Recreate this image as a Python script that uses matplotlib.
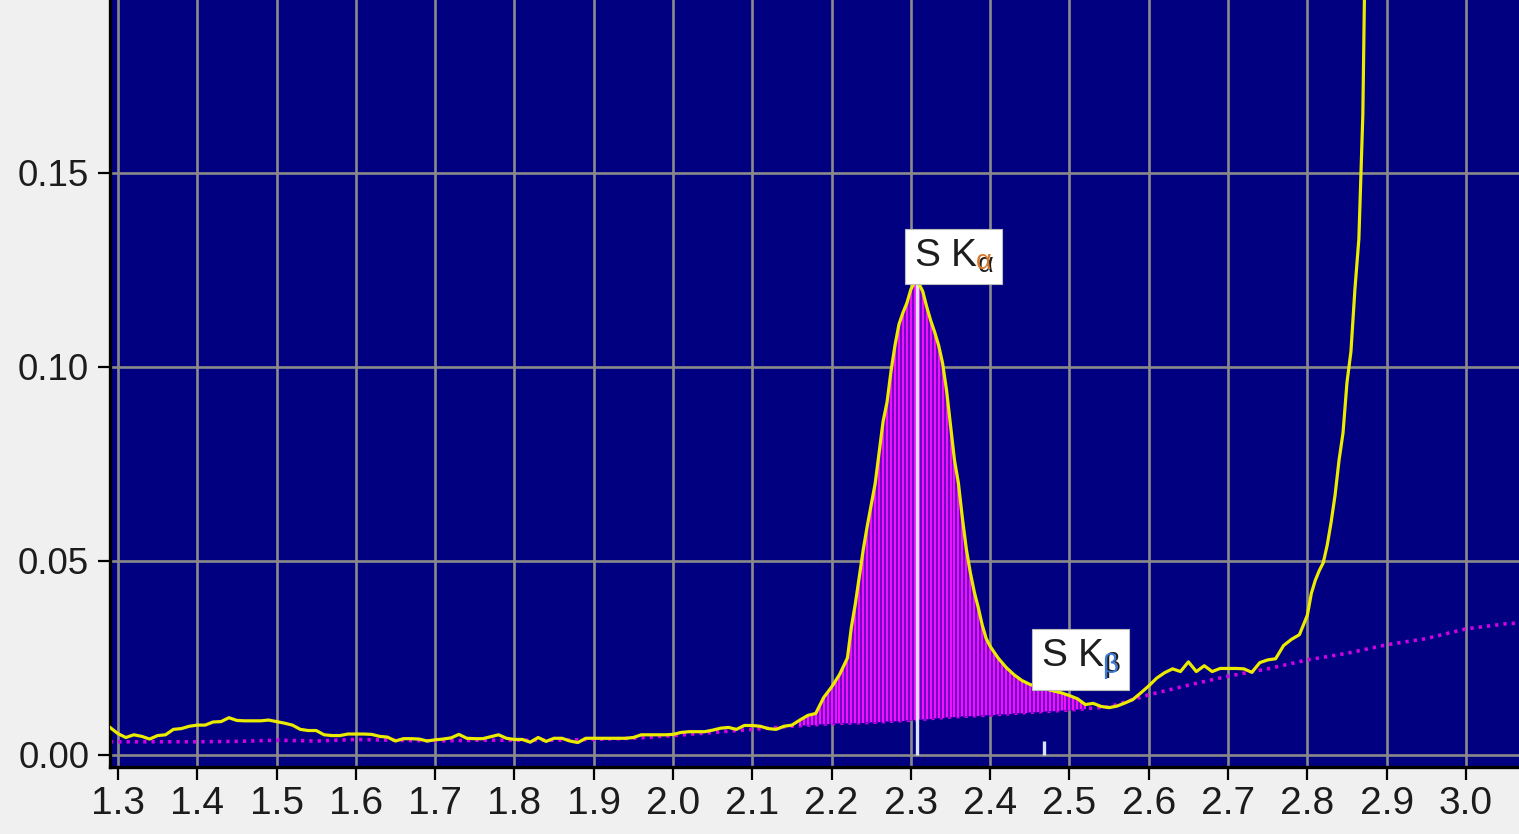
import numpy as np
import matplotlib
matplotlib.use("Agg")
import matplotlib.pyplot as plt

plt.rcParams['font.family'] = ['Liberation Sans', 'DejaVu Sans']
plt.rcParams['mathtext.default'] = 'regular'

energy = [1.29, 1.30, 1.31, 1.32, 1.33, 1.34, 1.35, 1.36, 1.37, 1.38, 1.39,
          1.40, 1.41, 1.42, 1.43, 1.44, 1.45, 1.46, 1.47, 1.48, 1.49,
          1.50, 1.51, 1.52, 1.53, 1.54, 1.55, 1.56, 1.57, 1.58, 1.59,
          1.60, 1.61, 1.62, 1.63, 1.64, 1.65, 1.66, 1.67, 1.68, 1.69,
          1.70, 1.71, 1.72, 1.73, 1.74, 1.75, 1.76, 1.77, 1.78, 1.79,
          1.80, 1.81, 1.82, 1.83, 1.84, 1.85, 1.86, 1.87, 1.88, 1.89,
          1.90, 1.91, 1.92, 1.93, 1.94, 1.95, 1.96, 1.97, 1.98, 1.99,
          2.00, 2.01, 2.02, 2.03, 2.04, 2.05, 2.06, 2.07, 2.08, 2.09,
          2.10, 2.11, 2.12, 2.13, 2.14, 2.15, 2.16, 2.17, 2.18, 2.19,
          2.20, 2.21, 2.22, 2.225, 2.23, 2.235, 2.24, 2.245, 2.25, 2.255,
          2.26, 2.265, 2.27, 2.275, 2.28, 2.285, 2.29, 2.295, 2.30, 2.305,
          2.31, 2.315, 2.32, 2.325, 2.33, 2.335, 2.34, 2.345, 2.35, 2.355,
          2.36, 2.365, 2.37, 2.375, 2.38, 2.385, 2.39, 2.395,
          2.40, 2.41, 2.42, 2.43, 2.44, 2.45, 2.46, 2.47, 2.48, 2.49,
          2.50, 2.51, 2.52, 2.53, 2.54, 2.55, 2.56, 2.57, 2.58, 2.59,
          2.60, 2.61, 2.62, 2.63, 2.64, 2.65, 2.66, 2.67, 2.68, 2.69,
          2.70, 2.71, 2.72, 2.73, 2.74, 2.75, 2.76, 2.77, 2.78, 2.79,
          2.80, 2.805, 2.81, 2.815, 2.82, 2.825, 2.83, 2.835, 2.84, 2.845,
          2.85, 2.855, 2.86, 2.865, 2.87, 2.873, 2.876]
counts = [0.0071, 0.0055, 0.0045, 0.0052, 0.0048, 0.0041, 0.0050, 0.0052, 0.0066, 0.0068, 0.0074,
          0.0077, 0.0077, 0.0085, 0.0086, 0.0096, 0.0089, 0.0088, 0.0088, 0.0088, 0.0090,
          0.0086, 0.0082, 0.0077, 0.0066, 0.0063, 0.0063, 0.0052, 0.0050, 0.0050, 0.0054,
          0.0054, 0.0054, 0.0053, 0.0048, 0.0046, 0.0036, 0.0042, 0.0042, 0.0041, 0.0036,
          0.0039, 0.0041, 0.0044, 0.0053, 0.0043, 0.0042, 0.0042, 0.0047, 0.0052, 0.0043,
          0.0040, 0.0040, 0.0033, 0.0045, 0.0035, 0.0043, 0.0043, 0.0036, 0.0032, 0.0043,
          0.0043, 0.0043, 0.0043, 0.0043, 0.0043, 0.0045, 0.0052, 0.0052, 0.0052, 0.0052,
          0.0053, 0.0058, 0.0060, 0.0060, 0.0060, 0.0064, 0.0069, 0.0071, 0.0066, 0.0076,
          0.0076, 0.0074, 0.0068, 0.0066, 0.0074, 0.0077, 0.0090, 0.0102, 0.0107, 0.0148,
          0.0175, 0.0207, 0.0250, 0.0330, 0.0390, 0.0460, 0.0530, 0.0590, 0.0645, 0.0700,
          0.0780, 0.0860, 0.0910, 0.0990, 0.1056, 0.1110, 0.1140, 0.1165, 0.1200, 0.1220,
          0.1215, 0.1195, 0.1155, 0.1120, 0.1090, 0.1056, 0.1010, 0.0940, 0.0850, 0.0760,
          0.0700, 0.0610, 0.0530, 0.0470, 0.0420, 0.0380, 0.0335, 0.0300,
          0.0280, 0.0250, 0.0226, 0.0207, 0.0192, 0.0182, 0.0175, 0.0170, 0.0165, 0.0160,
          0.0153, 0.0145, 0.0130, 0.0133, 0.0125, 0.0122, 0.0126, 0.0134, 0.0143, 0.0160,
          0.0178, 0.0198, 0.0212, 0.0222, 0.0215, 0.0240, 0.0215, 0.0230, 0.0215, 0.0223,
          0.0223, 0.0223, 0.0222, 0.0213, 0.0238, 0.0245, 0.0248, 0.0282, 0.0298, 0.0310,
          0.0360, 0.0416, 0.0450, 0.0475, 0.0495, 0.0540, 0.0600, 0.0670, 0.0760, 0.0830,
          0.0960, 0.1040, 0.1200, 0.1330, 0.1650, 0.2100, 0.2800]

# fitted background (dotted magenta)
bg_energy = [1.29, 1.35, 1.40, 1.45, 1.50, 1.55, 1.60, 1.65, 1.70, 1.75,
             1.80, 1.85, 1.90, 1.95, 2.00, 2.05, 2.10, 2.15, 2.20, 2.25,
             2.30, 2.35, 2.40, 2.45, 2.50, 2.55, 2.60, 2.65, 2.70, 2.75,
             2.80, 2.85, 2.90, 2.95, 3.00, 3.05, 3.13]
bg_counts = [0.0034, 0.0034, 0.0034, 0.0035, 0.0038, 0.0036, 0.0040, 0.0038, 0.0036, 0.0038,
             0.0038, 0.0038, 0.0040, 0.0043, 0.0050, 0.0058, 0.0066, 0.0074, 0.0081, 0.0084,
             0.0090, 0.0098, 0.0103, 0.0110, 0.0116, 0.0124, 0.0155, 0.0180, 0.0203, 0.0222,
             0.0245, 0.0262, 0.0284, 0.0300, 0.0325, 0.0338, 0.0348]

# integrated region of the S peak
roi_start, roi_end, roi_step = 2.16, 2.52, 0.005

# line markers: label, subscript, energy, marker top, subscript colour
line_names = ["S K", "S K"]
line_subs = [r"\alpha", r"\beta"]
line_energy = [2.308, 2.468]
line_top = [0.1215, 0.0035]
line_sub_color = ["#d9782e", "#3d7bd6"]

x_ticks = [1.3, 1.4, 1.5, 1.6, 1.7, 1.8, 1.9, 2.0, 2.1, 2.2, 2.3, 2.4,
           2.5, 2.6, 2.7, 2.8, 2.9, 3.0, 3.1]
y_ticks = [0.00, 0.05, 0.10, 0.15]

W, H = 1519, 834
fig = plt.figure(figsize=(W / 100, H / 100), dpi=100, facecolor='#f0f0f0')
ax = fig.add_axes([110 / W, 67 / H, 1459 / W, 788 / H])
ax.set_facecolor('#000080')
ax.set_xlim(1.29, 3.13)
ax.set_ylim(-0.0031, 0.2)

ax.set_xticks(x_ticks)
ax.set_yticks(y_ticks)
ax.set_xticklabels(["%.1f" % v for v in x_ticks])
ax.set_yticklabels(["%.2f" % v for v in y_ticks])
ax.set_axisbelow(True)
ax.grid(True, color='#8a8a8a', lw=1.9)
ax.tick_params(direction='out', length=9, width=1.6, color='black',
               labelcolor='#1c1c1c', pad=5)
ax.tick_params(axis='x', labelsize=28)
ax.tick_params(axis='y', labelsize=26.5, pad=6)
for side in ['left', 'bottom']:
   ax.spines[side].set_linewidth(2.4)
   ax.spines[side].set_color('black')
for side in ['top', 'right']:
   ax.spines[side].set_visible(False)

# background
ax.plot(bg_energy, bg_counts, color='#d200e4', lw=2.6, ls=(0, (0.9, 1.4)), zorder=2)

# peak area
ch = np.arange(roi_start, roi_end + 1e-9, roi_step)
top = np.interp(ch, energy, counts)
bot = np.interp(ch, bg_energy, bg_counts)
ax.fill_between(ch, bot, top, color='#7400cc', lw=0, zorder=3)
ax.vlines(ch, bot, top, color='#ff14ff', lw=1.3, zorder=3.5)

# marker lines
ax.vlines(line_energy, 0, line_top, color='#dbe2ff', lw=2.4, zorder=4)

# spectrum
ax.plot(energy, counts, color='#ebeb00', lw=2.3, zorder=5)

# labels
pad_px = 8.6
for name, sub, e, col in zip(line_names, line_subs, line_energy, line_sub_color):
   y0 = np.interp(e, energy, counts)
   t = ax.annotate(name + "$_{" + sub + "}$", xy=(e, y0),
                   xytext=(-12 + pad_px, pad_px - 1), textcoords='offset pixels',
                   ha='left', va='bottom', fontsize=28, color='#1e1e1e',
                   bbox=dict(boxstyle='square,pad=0.22', fc='white', ec='#bdbdbd', lw=0.8),
                   zorder=7, annotation_clip=False)
   ax.annotate("$" + sub + "$", xy=(1, 0), xycoords=t, xytext=(-1.5, 0),
               textcoords='offset pixels', ha='right', va='bottom',
               fontsize=28 * 0.7, color=col, zorder=8, annotation_clip=False)

fig.savefig("out.png", dpi=100, facecolor=fig.get_facecolor())
